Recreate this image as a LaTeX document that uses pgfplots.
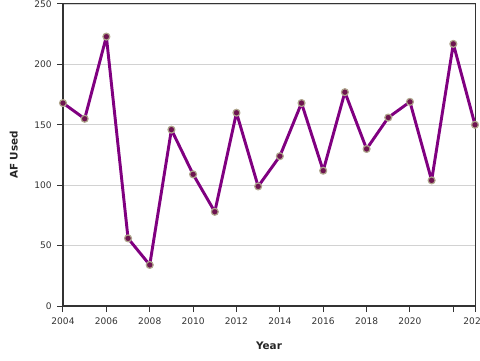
\documentclass[border=0pt]{standalone}
\usepackage{fontspec}
\setmainfont{DejaVu Sans}
\usepackage{pgfplots}
\pgfplotsset{compat=1.18}
\definecolor{linepurple}{RGB}{128,0,128}
\definecolor{mkfill}{RGB}{110,20,80}
\definecolor{mkdraw}{RGB}{175,165,140}
\definecolor{axdark}{RGB}{51,51,51}
\definecolor{gridgrey}{RGB}{210,210,210}
\begin{document}
\begin{tikzpicture}
\begin{axis}[name=ax,
  scale only axis, width=309pt, height=226.5pt,
  xmin=2004, xmax=2023, ymin=0, ymax=250,
  xtick={2004,2006,2008,2010,2012,2014,2016,2018,2020,2022,2023},
  xticklabels={2004,2006,2008,2010,2012,2014,2016,2018,2020,,2023},
  ytick={0,50,100,150,200,250},
  yticklabels={0,50,100,150,200,250},
  tick align=outside, major tick length=4.5pt,
  xtick pos=bottom, ytick pos=left,
  tick style={axdark, line width=0.75pt},
  ymajorgrids, grid style={gridgrey, line width=0.6pt},
  axis line style={axdark, line width=0.75pt},
  ticklabel style={font=\fontsize{6.8}{8}\selectfont, text=axdark},
  xticklabel style={yshift=-1pt},
  yticklabel style={xshift=-0.5pt},
  xlabel={\textbf{Year}}, ylabel={\textbf{AF Used}},
  label style={font=\fontsize{7.8}{9}\selectfont, text=black!85},
  xlabel style={yshift=-6pt},
  ylabel style={yshift=5.5pt},
  clip=false,
  /pgf/number format/assume math mode=true,
]
\draw[axdark, line width=1.5pt] (rel axis cs:0,1) -- (rel axis cs:0,0) -- (rel axis cs:1,0);
\addplot[linepurple, line width=2.2pt, line join=round,
  mark=*, mark size=2.6pt,
  mark options={fill=mkfill, draw=mkdraw, line width=0.9pt}]
coordinates {
(2004,168) (2005,155) (2006,223) (2007,56) (2008,34)
(2009,146) (2010,109) (2011,78) (2012,160) (2013,99)
(2014,124) (2015,168) (2016,112) (2017,177) (2018,130)
(2019,156) (2020,169) (2021,104) (2022,217) (2023,150)
};
\end{axis}
\pgfresetboundingbox
\path ([shift={(-47.25pt,-40.5pt)}]ax.south west) rectangle ([shift={(3.75pt,3pt)}]ax.north east);
\end{tikzpicture}
\end{document}
